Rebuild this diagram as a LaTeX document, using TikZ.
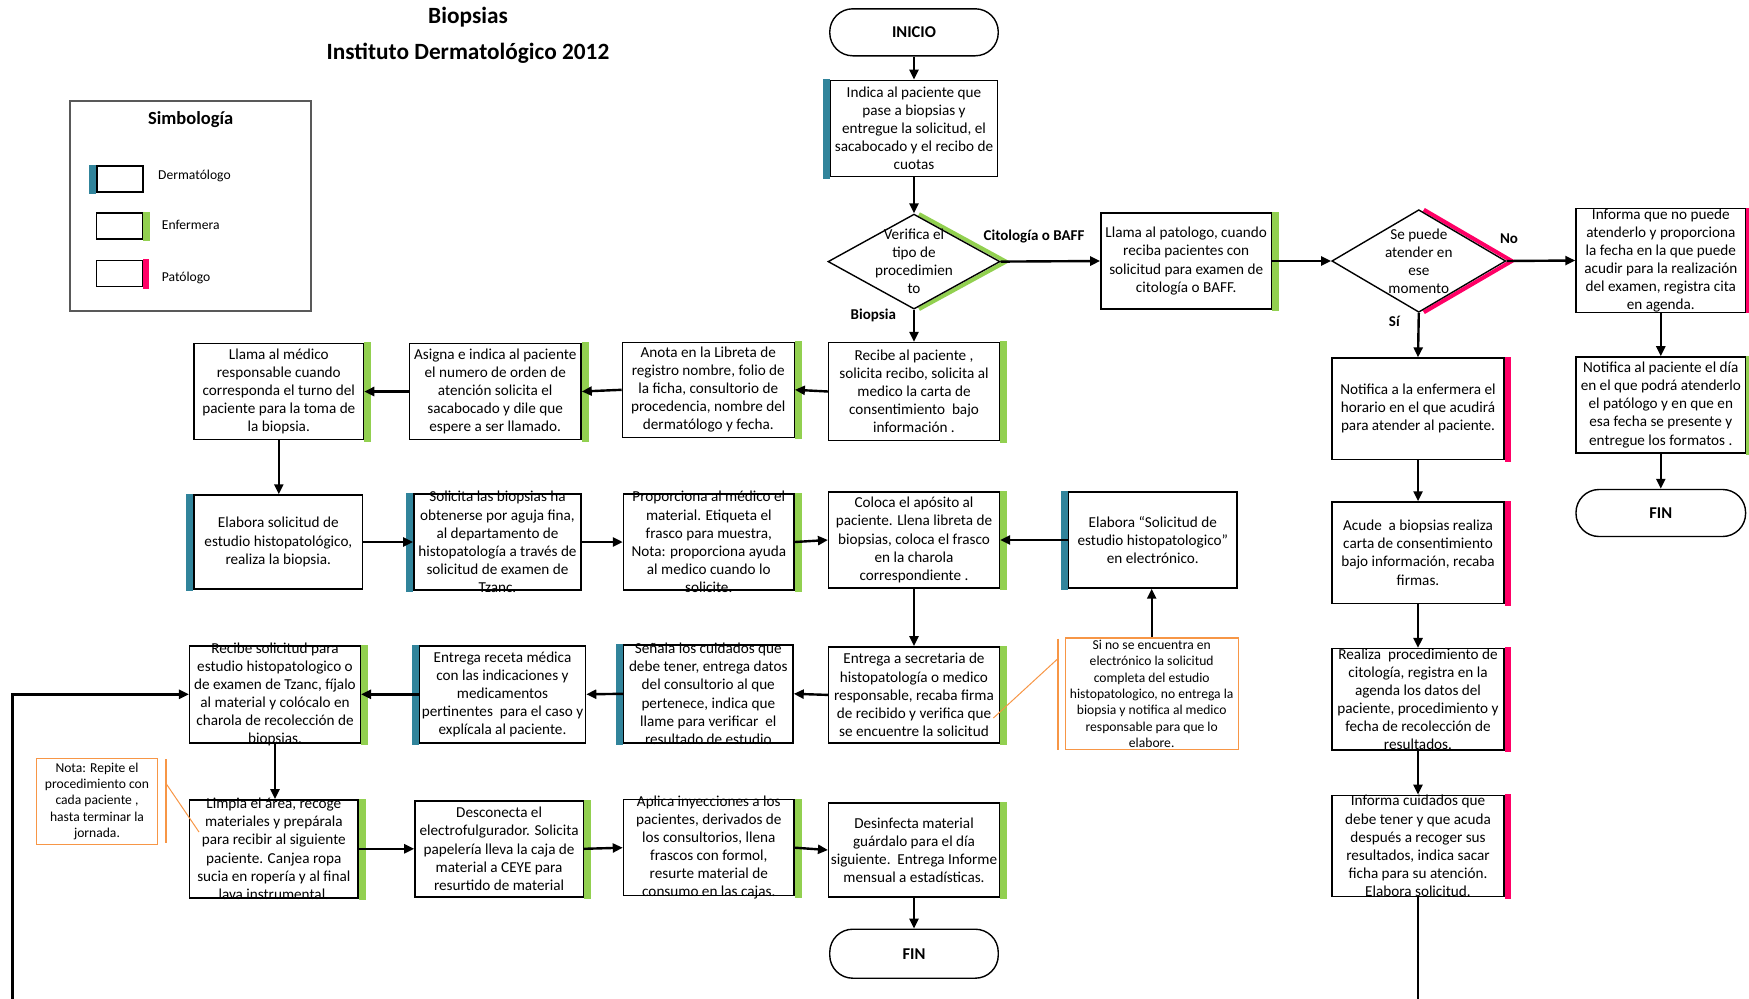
\documentclass[tikz,border=0pt]{standalone}
\usepackage{fontspec}
\setmainfont{Carlito}
\usetikzlibrary{arrows.meta,shapes.geometric,calc}
\definecolor{derm}{HTML}{31849B}
\definecolor{enf}{HTML}{92D050}
\definecolor{pat}{HTML}{FF0066}
\definecolor{nota}{HTML}{F79646}
\newcommand\boxfont{\fontsize{15.2}{18.1}\selectfont}
\newcommand\notefont{\fontsize{13.6}{16.3}\selectfont}
\newcommand\gbar[1]{\fill[enf] ([yshift=0.5pt]#1.north east) rectangle ([xshift=7pt,yshift=-1.5pt]#1.south east);}
\newcommand\pbar[1]{\fill[pat] ([yshift=0.5pt]#1.north east) rectangle ([xshift=6pt,yshift=-1.5pt]#1.south east);}
\newcommand\tbar[1]{\fill[derm] ([xshift=-7pt,yshift=0.5pt]#1.north west) rectangle ([yshift=-1.5pt]#1.south west);}
\begin{document}
\begin{tikzpicture}[x=1pt,y=-1pt,
  box/.style={draw, line width=1.4pt, inner sep=0pt, minimum width=170.7pt, minimum height=96pt},
  txt/.style={align=center, inner sep=0pt, font=\boxfont},
  ntxt/.style={align=center, inner sep=0pt, font=\notefont},
  term/.style={draw, line width=1.4pt, rounded corners=23pt, minimum width=168.5pt, minimum height=47pt, font=\fontsize{16.5}{19}\selectfont\bfseries},
  dia/.style={draw, diamond, line width=1.4pt, inner sep=0pt, minimum width=172pt, minimum height=95pt},
  arr/.style={line width=2.4pt, -{Triangle[length=10pt,width=9pt]}},
  lbl/.style={font=\fontsize{15}{17}\selectfont\bfseries, inner sep=0pt},
  notebox/.style={draw=nota, line width=1.2pt, inner sep=0pt},
  orl/.style={draw=nota, line width=1pt},
  legbox/.style={draw, line width=1.4pt, inner sep=0pt, minimum width=46pt, minimum height=26pt},
  legtxt/.style={anchor=west, inner sep=0pt, font=\fontsize{13.6}{16}\selectfont}
]
\useasboundingbox (0,0) rectangle (1749,999);

% ---- title
\node[font=\fontsize{23.3}{28}\selectfont\bfseries] (tit1) at (468,17.5) {Biopsias};
\node[font=\fontsize{23.3}{28}\selectfont\bfseries] (tit2) at (468,53) {Instituto Dermatológico 2012};

% ---- legend
\node[draw=gray!70!black, line width=2pt, minimum width=241pt, minimum height=210pt] (leg) at (190.7,206.3) {};
\node[font=\fontsize{18.5}{22}\selectfont\bfseries] (legt) at (190.7,119.3) {Simbología};
\node[legbox] (lg1) at (119.9,178.9) {};
\node[legbox] (lg2) at (119.4,225.9) {};
\node[legbox] (lg3) at (119.4,273.3) {};
\tbar{lg1}\gbar{lg2}\pbar{lg3}
\node[legtxt] (lg1t) at (158,176) {Dermatólogo};
\node[legtxt] (lg2t) at (161.7,225.3) {Enfermera};
\node[legtxt] (lg3t) at (161.7,277.7) {Patólogo};

% ---- main column top
\node[term] (ini) at (914,32.3) {INICIO};
\node[box, minimum width=167.4pt] (b1) at (914,128.3) {};
\tbar{b1}
\node[txt] (b1t) at (b1) {Indica al paciente que\\pase a biopsias y\\entregue la solicitud, el\\sacabocado y el recibo de\\cuotas};

\draw[enf, line width=4pt] ([xshift=5pt]914,214.1) -- ([xshift=6pt]1000,261.6) -- ([xshift=5pt]914,309.1);
\node[dia] (d1) at (914,261.6) {};
\node[txt] (d1t) at (d1) {Verifica el\\tipo de\\procedimien\\to};

\node[box] (llp) at (1186.2,261) {};
\gbar{llp}
\node[txt] (llpt) at (llp) {Llama al patologo, cuando\\reciba pacientes con\\solicitud para examen de\\citología o BAFF.};

\draw[pat, line width=4pt] ([xshift=5pt]1418.8,209.7) -- ([xshift=6pt]1505.8,261) -- ([xshift=5pt]1418.8,312.3);
\node[dia, minimum width=174pt, minimum height=102.6pt] (d2) at (1418.8,261) {};
\node[txt] (d2t) at (d2) {Se puede\\atender en\\ese\\momento};

\node[box, minimum width=169.6pt, minimum height=103.7pt] (inf) at (1660.8,260.5) {};
\fill[pat] (inf.north east) rectangle ([xshift=3pt]inf.south east);
\node[txt] (inft) at (inf) {Informa que no puede\\atenderlo y proporciona\\la fecha en la que puede\\acudir para la realización\\del examen, registra cita\\en agenda.};

\node[box, minimum width=169.6pt] (notp) at (1660.8,404.9) {};
\gbar{notp}
\node[txt] (notpt) at (notp) {Notifica al paciente el día\\en el que podrá atenderlo\\el patólogo y en que en\\esa fecha se presente y\\entregue los formatos .};
\node[term, minimum width=169.6pt] (fin2) at (1660.8,513) {FIN};

% ---- pathologist column
\node[box, minimum width=171.8pt, minimum height=101.5pt] (nenf) at (1418,408.8) {};
\node[box, minimum width=171.8pt, minimum height=101.5pt] (acu) at (1418,552.7) {};
\node[box, minimum width=171.8pt, minimum height=101.5pt] (rea) at (1418,699.4) {};
\node[box, minimum width=171.8pt, minimum height=101.5pt] (infc) at (1418,846) {};
\pbar{nenf}\pbar{acu}\pbar{rea}\pbar{infc}
\node[txt] (nenft) at (nenf) {Notifica a la enfermera el\\horario en el que acudirá\\para atender al paciente.};
\node[txt] (acut) at (acu) {Acude\ \ a biopsias realiza\\carta de consentimiento\\bajo información, recaba\\firmas.};
\node[txt] (reat) at (rea) {Realiza\ \ procedimiento de\\citología, registra en la\\agenda los datos del\\paciente, procedimiento y\\fecha de recolección de\\resultados.};
\node[txt] (infct) at (infc) {Informa cuidados que\\debe tener y que acuda\\después a recoger sus\\resultados, indica sacar\\ficha para su atención.\\Elabora solicitud.};

% ---- row 2
\node[box, minimum height=98pt] (recp) at (914,391.5) {};
\node[box, minimum width=171.8pt, minimum height=94.8pt] (ano) at (708.3,389.8) {};
\node[box, minimum width=171.8pt] (asi) at (495.2,391.5) {};
\node[box, minimum width=169.5pt] (llm) at (278.8,391.5) {};
\gbar{recp}\gbar{ano}\gbar{asi}\gbar{llm}
\node[txt] (recpt) at (recp) {Recibe al paciente ,\\solicita recibo, solicita al\\medico la carta de\\consentimiento\ \ bajo\\información .};
\node[txt] (anot) at (ano) {Anota en la Libreta de\\registro nombre, folio de\\la ficha, consultorio de\\procedencia, nombre del\\dermatólogo y fecha.};
\node[txt] (asit) at (asi) {Asigna e indica al paciente\\el numero de orden de\\atención solicita el\\sacabocado y dile que\\espere a ser llamado.};
\node[txt] (llmt) at (llm) {Llama al médico\\responsable cuando\\corresponda el turno del\\paciente para la toma de\\la biopsia.};

% ---- row 3
\node[box, minimum width=168.4pt, minimum height=94pt] (els) at (278.3,542) {};
\node[box, minimum width=167.3pt] (sol) at (497.5,542) {};
\node[box] (pro) at (708.8,542) {};
\node[box] (col) at (914,540) {};
\node[box, minimum width=168.4pt] (ele) at (1152.8,540) {};
\tbar{els}\tbar{sol}\gbar{pro}\gbar{col}\tbar{ele}
\node[txt] (elst) at (els) {Elabora solicitud de\\estudio histopatológico,\\realiza la biopsia.};
\node[txt] (solt) at (sol) {Solicita las biopsias ha\\obtenerse por aguja fina,\\al departamento de\\histopatología a través de\\solicitud de examen de\\Tzanc.};
\node[txt] (prot) at (pro) {Proporciona al médico el\\material. Etiqueta el\\frasco para muestra,\\Nota: proporciona ayuda\\al medico cuando lo\\solicite.};
\node[txt] (colt) at (col) {Coloca el apósito al\\paciente. Llena libreta de\\biopsias, coloca el frasco\\en la charola\\correspondiente .};
\node[txt] (elet) at (ele) {Elabora “Solicitud de\\estudio histopatologico”\\en electrónico.};

% ---- row 4
\node[box] (ent) at (914,694.9) {};
\node[box, minimum width=169.5pt, minimum height=98pt] (sen) at (708.3,693.8) {};
\node[box, minimum width=166.2pt, minimum height=97pt] (rec) at (502.5,694.3) {};
\node[box, minimum height=97pt] (recs) at (275,694.3) {};
\gbar{ent}\tbar{sen}\tbar{rec}\gbar{recs}
\node[txt] (entt) at (ent) {Entrega a secretaria de\\histopatología o medico\\responsable, recaba firma\\de recibido y verifica que\\se encuentre la solicitud};
\node[txt] (sent) at (sen) {Señala los cuidados que\\debe tener, entrega datos\\del consultorio al que\\pertenece, indica que\\llame para verificar\ \ el\\resultado de estudio};
\node[txt] (rect) at (rec) {Entrega receta médica\\con las indicaciones y\\medicamentos\\pertinentes\ \ para el caso y\\explícala al paciente.};
\node[txt] (recst) at (recs) {Recibe solicitud para\\estudio histopatologico o\\de examen de Tzanc, fíjalo\\al material y colócalo en\\charola de recolección de\\biopsias.};

\node[notebox, minimum width=172.9pt, minimum height=111.5pt] (n1) at (1151.7,693.8) {};
\node[ntxt] (n1t) at (n1) {Si no se encuentra en\\electrónico la solicitud\\completa del estudio\\histopatologico, no entrega la\\biopsia y notifica al medico\\responsable para que lo\\elabore.};
\coordinate (n1a) at (1057.5,638.6);
\coordinate (n1b) at (1057.5,750);
\coordinate (n1c) at (1057.5,659);
\coordinate (n1d) at (993.4,718);
\draw[nota, line width=2pt] (n1a) -- (n1b);
\draw[orl] (n1c) -- (n1d);

% ---- row 5
\node[box, minimum width=168.4pt, minimum height=98pt] (lim) at (273.8,848.8) {};
\node[box, minimum width=168.4pt] (des) at (499.1,848.8) {};
\node[box] (apl) at (708.8,847.7) {};
\node[box, minimum height=93.7pt] (dsf) at (914,850) {};
\gbar{lim}\gbar{des}\gbar{apl}\gbar{dsf}
\node[txt] (limt) at (lim) {Limpia el área, recoge\\materiales y prepárala\\para recibir al siguiente\\paciente. Canjea ropa\\sucia en ropería y al final\\lava instrumental.};
\node[txt] (dest) at (des) {Desconecta el\\electrofulgurador. Solicita\\papelería lleva la caja de\\material a CEYE para\\resurtido de material};
\node[txt] (aplt) at (apl) {Aplica inyecciones a los\\pacientes, derivados de\\los consultorios, llena\\frascos con formol,\\resurte material de\\consumo en las cajas.};
\node[txt] (dsft) at (dsf) {Desinfecta material\\guárdalo para el día\\siguiente.\ \ Entrega Informe\\mensual a estadísticas.};
\node[term, minimum height=49pt] (fin1) at (914,953.7) {FIN};

\node[notebox, minimum width=120.5pt, minimum height=86pt] (n2) at (97,801.4) {};
\node[ntxt] (n2t) at (n2) {Nota: Repite el\\procedimiento con\\cada paciente ,\\hasta terminar la\\jornada.};
\coordinate (n2a) at (165.7,759);
\coordinate (n2b) at (165.7,843);
\coordinate (n2c) at (165.7,783);
\coordinate (n2d) at (199,832);
\draw[nota, line width=2pt] (n2a) -- (n2b);
\draw[orl] (n2c) -- (n2d);

% ---- connectors
\draw[arr] (ini) -- (b1);
\draw[arr] (b1) -- (d1);
\draw[arr] (d1.east) -- (llp.west);
\draw[arr] (llp.east) -- (d2.west);
\draw[arr] (d2.east) -- (inf.west);
\draw[arr] (inf) -- (notp);
\draw[arr] (notp) -- (fin2);
\draw[arr] (d2.south) -- (nenf.north);
\draw[arr] (nenf) -- (acu);
\draw[arr] (acu) -- (rea);
\draw[arr] (rea) -- (infc);
\coordinate (ib) at (1418,999);
\draw[line width=2.4pt] (infc.south) -- (ib);

\draw[arr] (d1.south) -- (recp.north);
\draw[arr] (recp.west) -- (ano.east);
\draw[arr] (ano.west) -- (asi.east);
\draw[arr] (asi.west) -- (llm.east);
\draw[arr] (llm.south) -- (llm.south |- els.north);
\draw[arr] (els.east) -- (sol.west);
\draw[arr] (sol.east) -- (pro.west);
\draw[arr] (pro.east) -- (col.west);
\draw[arr] (ele.west) -- (col.east);
\draw[arr] (col) -- (ent);
\draw[arr] (n1.north) -- (n1.north |- ele.south);
\draw[arr] (ent.west) -- (sen.east);
\draw[arr] (sen.west) -- (rec.east);
\draw[arr] (rec.west) -- (recs.east);
\draw[arr] (recs.south) -- (recs.south |- lim.north);
\draw[arr] (lim.east) -- (des.west);
\draw[arr] (des.east) -- (apl.west);
\draw[arr] (apl.east) -- (dsf.west);
\draw[arr] (dsf) -- (fin1);
\coordinate (lp) at (12,999);
\draw[arr, line width=3pt] (lp) |- (recs.west);

% ---- connector labels
\node[lbl] (l1) at (1034,236.5) {Citología o BAFF};
\node[lbl] (l2) at (873.3,315.7) {Biopsia};
\node[lbl] (l3) at (1509,238.7) {No};
\node[lbl] (l4) at (1394.3,321.2) {Sí};
\end{tikzpicture}
\end{document}
